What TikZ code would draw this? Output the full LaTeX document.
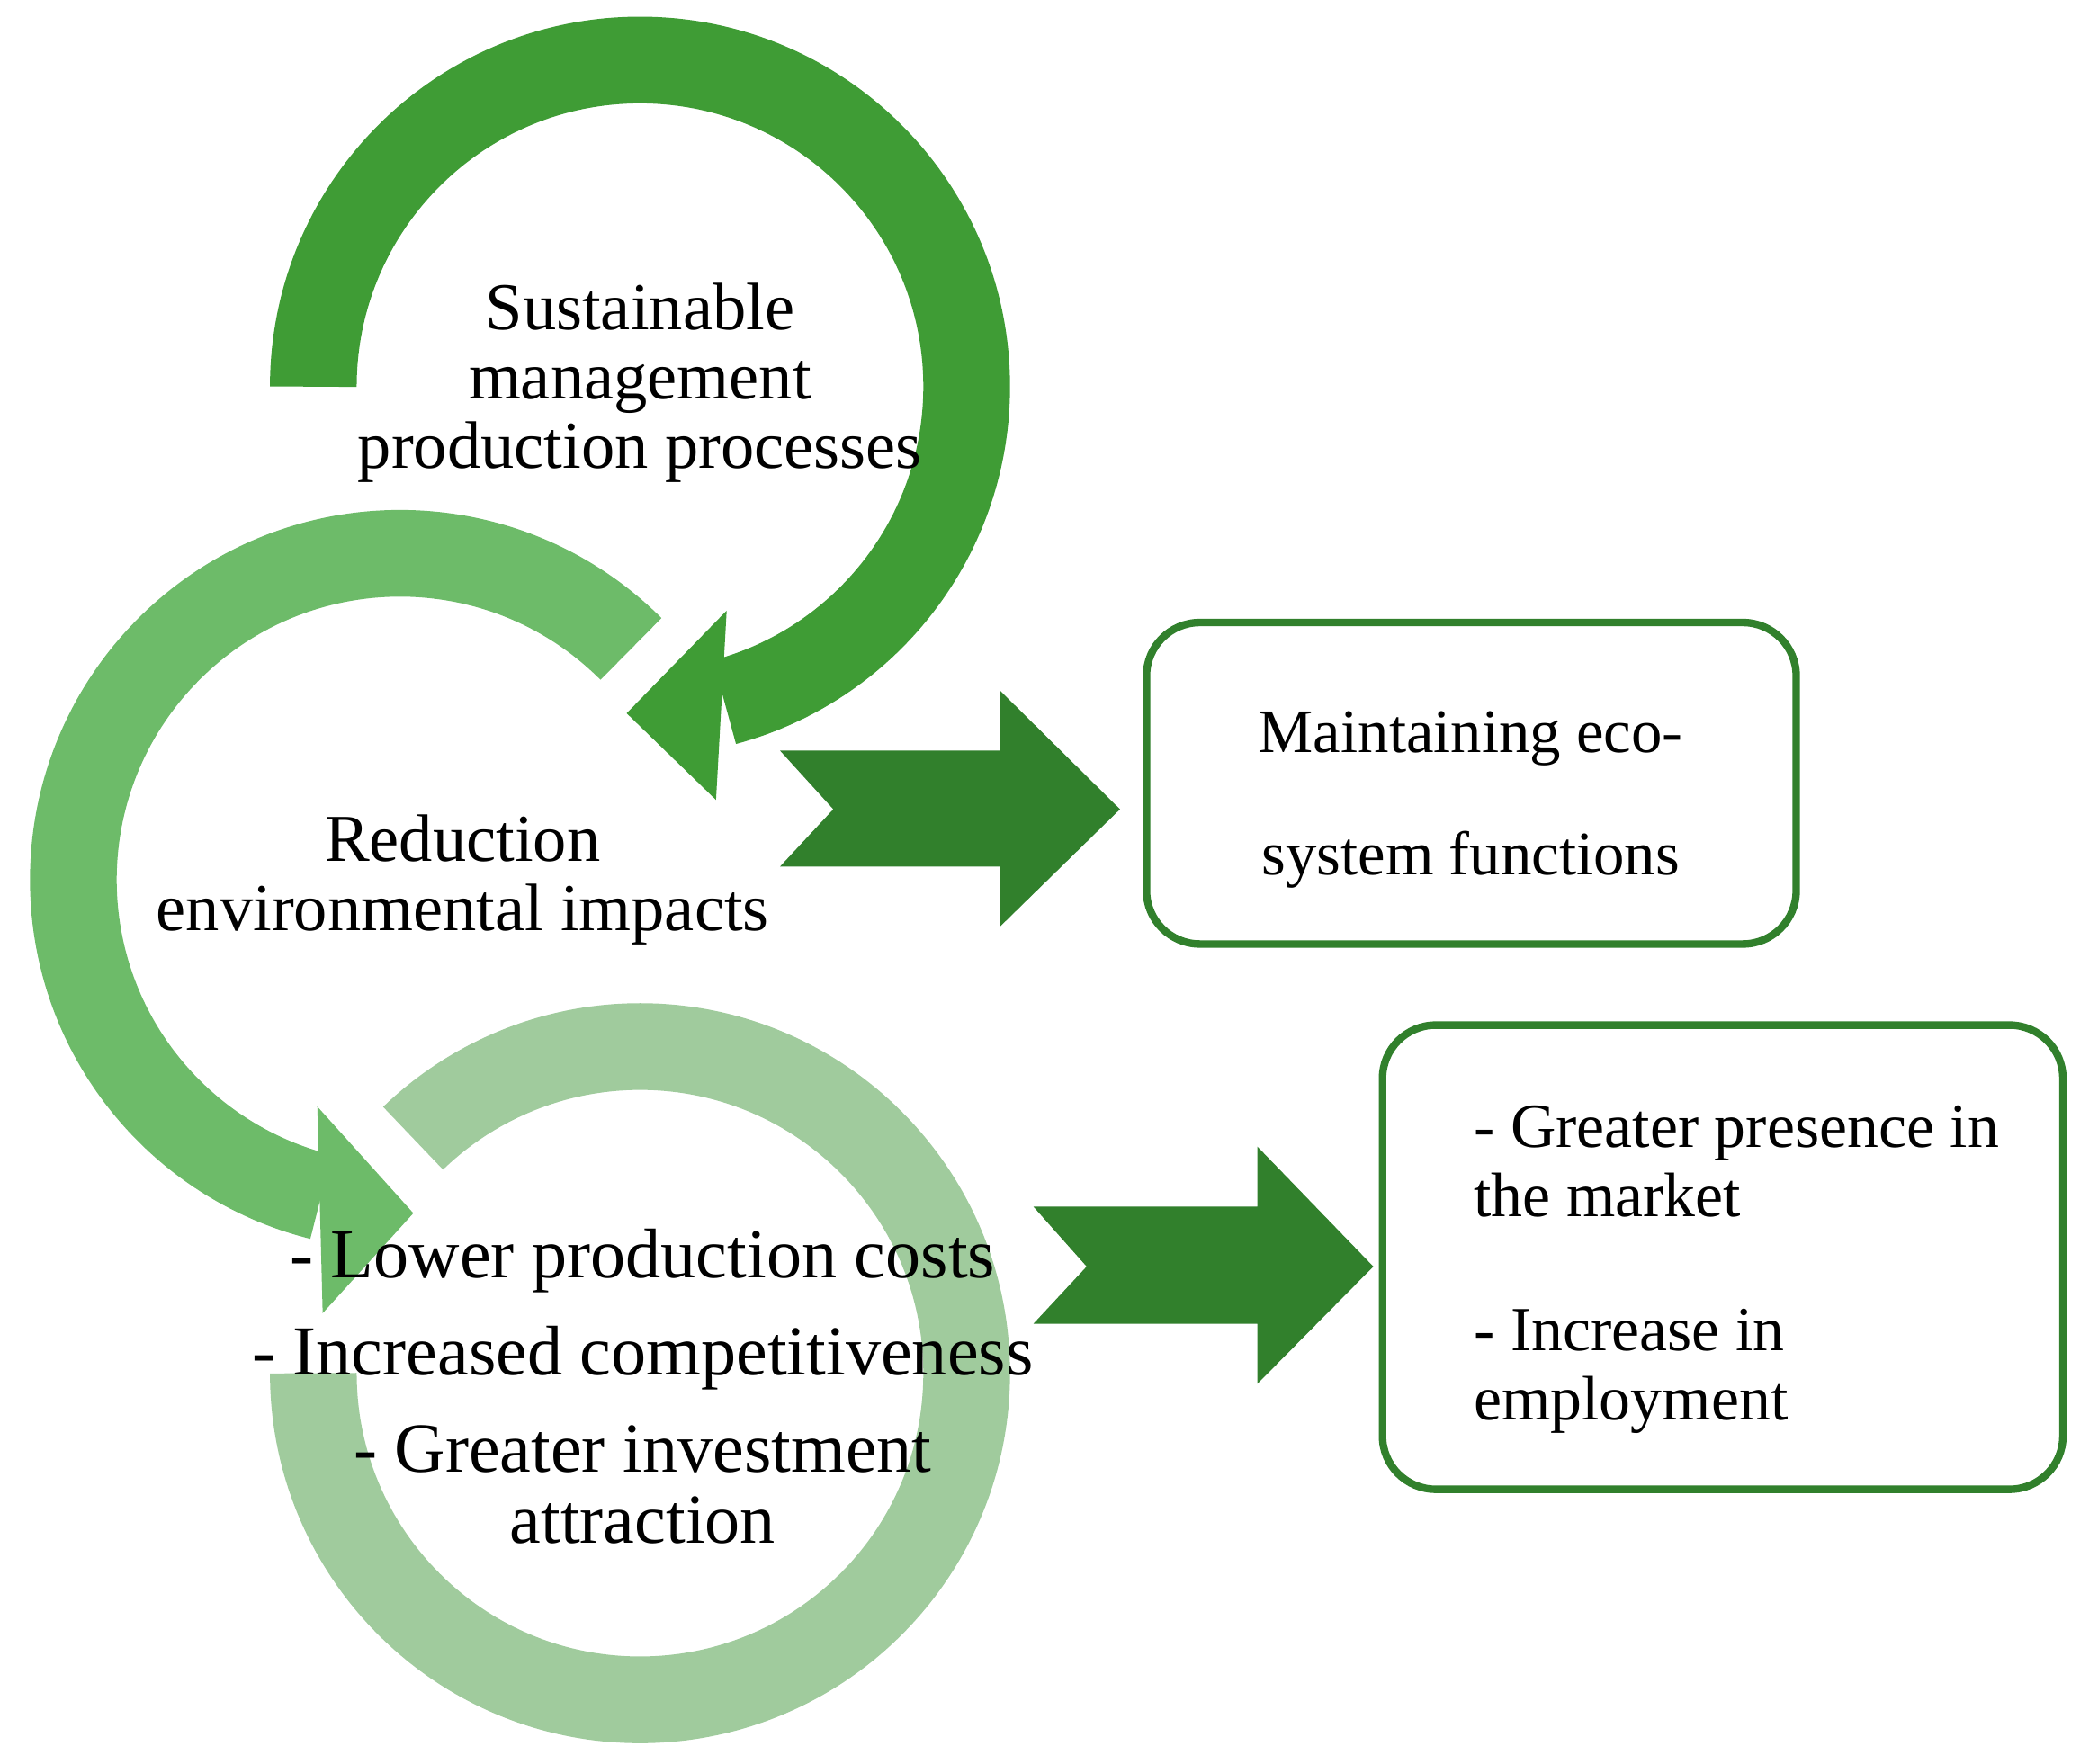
\documentclass[tikz,border=0pt]{standalone}
\usepackage{fontspec}
\setmainfont{Liberation Serif}
\usetikzlibrary{shapes,arrows,positioning,calc}
\definecolor{darkgreen}{HTML}{3F9C35}
\definecolor{midgreen}{HTML}{6DBB69}
\definecolor{lightgreen}{HTML}{A0CB9D}
\definecolor{arrowgreen}{HTML}{31802C}
\tikzstyle{ring} = [line width=0.65cm, line cap=butt]
\tikzstyle{label} = [align=center, font=\fontsize{14.3}{14.8}\selectfont]
\tikzstyle{result} = [rectangle, draw=arrowgreen, line width=1.6pt,
    rounded corners=0.4cm, fill=white]
\tikzstyle{bigarrow} = [fill=arrowgreen]

\begin{document}
\begin{tikzpicture}[x=0.01cm, y=-0.01cm]
    \useasboundingbox (0,0) rectangle (1560,1323);
    \coordinate (c1) at (480,290);
    \coordinate (c2) at (300,660);
    \coordinate (c3) at (480,1030);

    % rings
    \draw[ring, lightgreen] ($(c3)+(180:245)$) arc[start angle=180, end angle=-134, radius=245];
    \draw[ring, midgreen] ($(c2)+(315:245)$) arc[start angle=315, end angle=104, radius=245];
    \fill[midgreen] (238,830) -- (310,910) -- (242,985) -- cycle;
    \draw[ring, darkgreen] ($(c1)+(180:245)$) arc[start angle=180, end angle=435, radius=245];
    \fill[darkgreen] (545,458) -- (470,535) -- (537,600) -- cycle;

    % big arrows
    \fill[bigarrow] (585,563) -- (750,563) -- (750,518) -- (840,607)
        -- (750,695) -- (750,650) -- (585,650) -- (625,607) -- cycle;
    \fill[bigarrow] (775,905) -- (943,905) -- (943,860) -- (1030,950)
        -- (943,1038) -- (943,993) -- (775,993) -- (815,950) -- cycle;

    % boxes
    \node[result, minimum width=4.87cm, minimum height=2.41cm] (eco) at (1103.5,587.5) {};
    \node[font=\fontsize{13.2}{26}\selectfont, align=center] (ecoText) at (1103,600)
        {Maintaining eco-\\system functions};
    \node[result, minimum width=5.1cm, minimum height=3.48cm] (market) at (1292,943) {};
    \node[font=\fontsize{13.4}{14.7}\selectfont, align=left, anchor=north west] (marketText)
        at (1093,817) {- Greater presence in\\the market\\[14pt]- Increase in\\employment};

    % ring labels
    \node[label] (sustain) at (480,287) {Sustainable\\management\\production processes};
    \node[label] (reduce) at (347,660) {Reduction\\environmental impacts};
    \node[align=center, font=\fontsize{15}{15.2}\selectfont] (costs) at (482,1040)
        {- Lower production costs\\[5.5pt]- Increased competitiveness\\[5.5pt]- Greater investment\\attraction};
\end{tikzpicture}
\end{document}
